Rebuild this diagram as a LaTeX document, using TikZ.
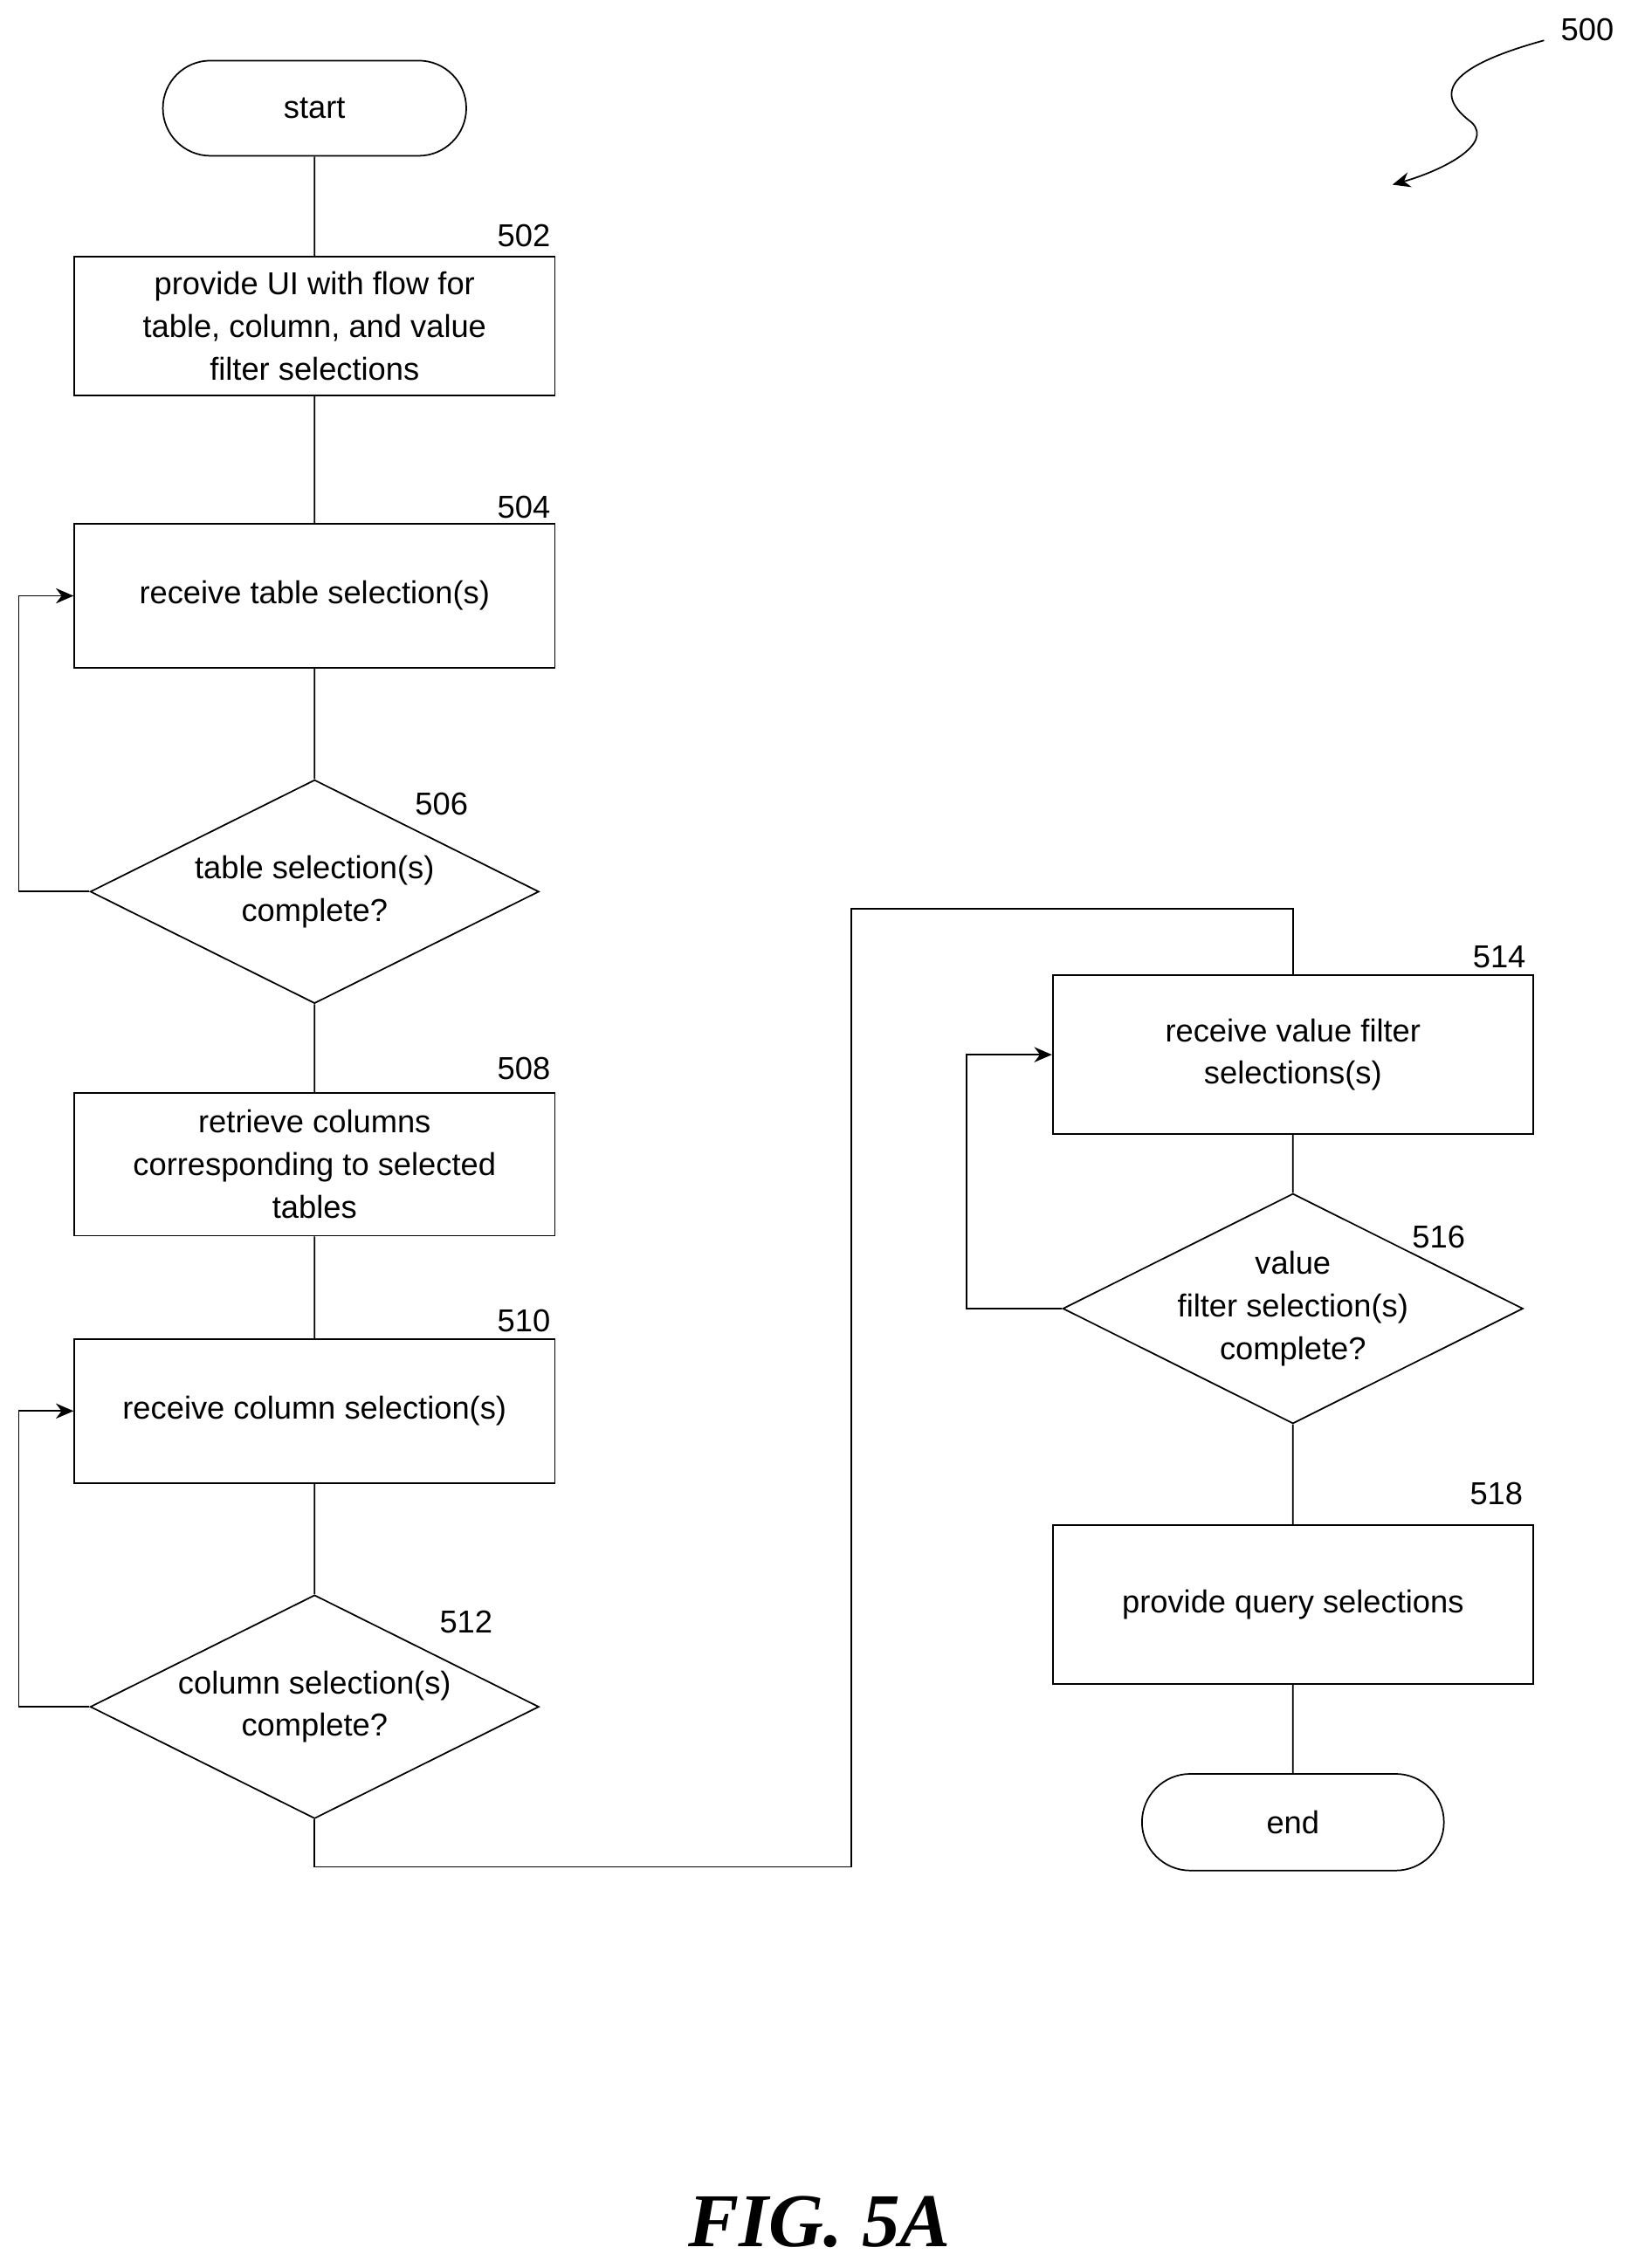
\documentclass[tikz,border=0pt]{standalone}
\usepackage{fontspec}
\setmainfont{Liberation Sans}
\newfontfamily\figfont{Liberation Serif}
\usetikzlibrary{shapes.geometric, shapes.misc, arrows.meta}

\begin{document}
\begin{tikzpicture}[x=0.02cm, y=-0.02cm, semithick,
    font=\fontsize{12.5}{16.8}\selectfont,
    proc/.style={draw, rectangle, minimum width=6.66cm, align=center, inner sep=0pt},
    term/.style={draw, rounded rectangle, align=center},
    test/.style={draw, diamond, aspect=2, minimum width=6.22cm, minimum height=3.1cm, align=center, inner sep=0pt},
    num/.style={anchor=base},
    loop/.style={-{Stealth[length=7pt,width=6pt]}}]
    \useasboundingbox (0,0) rectangle (1135,1572);
    	\node[term, minimum width=4.44cm, minimum height=1.32cm] (start) at (218,75) {start};
    	\node[proc, minimum height=1.92cm] (502) at (218,226) {provide UI with flow for\\table, column, and value\\filter selections};
    	\node[proc, minimum height=2cm] (504) at (218,413) {receive table selection(s)};
    	\node[test] (506) at (218,618) {table selection(s)\\complete?};
    	\node[proc, minimum height=1.98cm] (508) at (218,807) {retrieve columns\\corresponding to selected\\tables};
    	\node[proc, minimum height=2cm] (510) at (218,978) {receive column selection(s)};
    	\node[test] (512) at (218,1183) {column selection(s)\\complete?};
    	\node[proc, minimum height=2.2cm] (514) at (896,731) {receive value filter\\selections(s)};
    	\node[test] (516) at (896,907) {value\\filter selection(s)\\complete?};
    	\node[proc, minimum height=2.2cm] (518) at (896,1112) {provide query selections};
    	\node[term, minimum width=4.42cm, minimum height=1.34cm] (end) at (896,1263) {end};
    	% reference numbers
    	\node[num] at (363,171) {502};
    	\node[num] at (363,359) {504};
    	\node[num] at (306,565) {506};
    	\node[num] at (363,748) {508};
    	\node[num] at (363,923) {510};
    	\node[num] at (323,1132) {512};
    	\node[num] at (1039,671) {514};
    	\node[num] at (997,865) {516};
    	\node[num] at (1037,1043) {518};
    	\node[num] (500) at (1100,28) {500};
    	\draw (start) -- (502) -- (504) -- (506) -- (508) -- (510) -- (512);
    	\draw (514) -- (516) -- (518) -- (end);
    	\draw (512.south) |- (590,1294) |- (896,630) -- (514.north);
    	\draw[loop] (506.west) -- (13,618) |- (504.west);
    	\draw[loop] (512.west) -- (13,1183) |- (510.west);
    	\draw[loop] (516.west) -- (670,907) |- (514.west);
    	\draw[loop] (1070,28) .. controls (990,50) and (1000,70) .. (1020,85)
    		.. controls (1035,100) and (1000,118) .. (965,128);
    	\node[font=\figfont\bfseries\itshape\fontsize{30}{34}\selectfont] (fig) at (568,1540) {FIG. 5A};
    \end{tikzpicture}
\end{document}
